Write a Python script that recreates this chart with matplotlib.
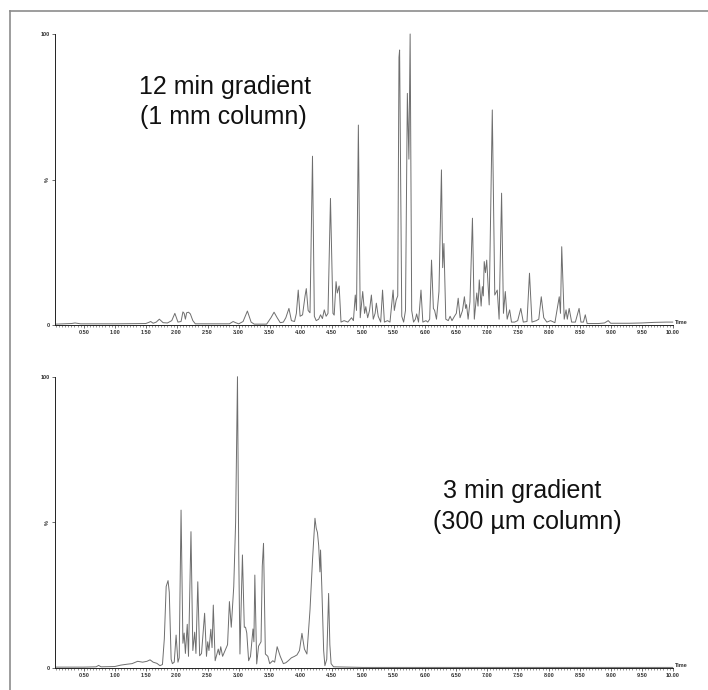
import numpy as np
import matplotlib
matplotlib.use("Agg")
import matplotlib.pyplot as plt
from matplotlib.lines import Line2D
from matplotlib.ticker import MultipleLocator

plt.rcParams['font.family'] = ['Liberation Sans', 'DejaVu Sans']

# 12 min gradient (1 mm column): retention time (min) and relative intensity (%)
top_time = [0.05, 0.30, 0.36, 0.45, 1.00, 1.50, 1.55, 1.58, 1.62, 1.67, 1.72, 1.78, 1.85, 1.92, 1.97,
            2.02, 2.07, 2.10, 2.12, 2.14, 2.16, 2.19, 2.22, 2.26, 2.30, 2.85, 2.91, 2.95, 3.00, 3.07,
            3.14, 3.20, 3.25, 3.45, 3.52, 3.57, 3.62, 3.67, 3.72, 3.76, 3.81, 3.85, 3.90, 3.93, 3.96,
            3.99, 4.03, 4.07, 4.09, 4.12, 4.15, 4.19, 4.22, 4.25, 4.29, 4.32, 4.35, 4.38, 4.41, 4.44,
            4.48, 4.52, 4.54, 4.57, 4.59, 4.62, 4.65, 4.70, 4.76, 4.82, 4.85, 4.88, 4.90, 4.93, 4.96,
            5.00, 5.03, 5.05, 5.08, 5.11, 5.14, 5.17, 5.20, 5.22, 5.25, 5.29, 5.32, 5.35, 5.40, 5.44,
            5.49, 5.51, 5.54, 5.565, 5.585, 5.595, 5.63, 5.66, 5.69, 5.72, 5.745, 5.765, 5.79, 5.82,
            5.85, 5.87, 5.90, 5.94, 5.97, 6.02, 6.05, 6.08, 6.11, 6.14, 6.16, 6.19, 6.23, 6.27, 6.29,
            6.31, 6.34, 6.38, 6.41, 6.44, 6.48, 6.51, 6.54, 6.57, 6.61, 6.64, 6.66, 6.675, 6.70, 6.73,
            6.77, 6.80, 6.84, 6.86, 6.88, 6.91, 6.93, 6.945, 6.96, 6.98, 7.00, 7.04, 7.09, 7.13, 7.17,
            7.20, 7.24, 7.27, 7.30, 7.33, 7.37, 7.40, 7.45, 7.50, 7.55, 7.59, 7.65, 7.69, 7.73, 7.80,
            7.84, 7.88, 7.92, 7.97, 8.03, 8.10, 8.17, 8.19, 8.21, 8.25, 8.28, 8.30, 8.33, 8.37, 8.43,
            8.49, 8.52, 8.56, 8.59, 8.62, 8.80, 8.90, 8.96, 9.00, 9.30, 9.50, 9.70, 9.90, 10.00]
top_int = [0.3, 0.5, 0.7, 0.4, 0.4, 0.5, 0.9, 1.2, 0.6, 1.0, 2.0, 0.8, 0.7, 1.5, 4.0,
           1.0, 1.2, 4.5, 4.0, 2.0, 4.2, 4.4, 3.8, 1.5, 0.4, 0.4, 1.2, 0.8, 0.4, 1.2,
           4.8, 1.0, 0.3, 0.3, 2.5, 4.4, 2.5, 0.8, 1.0, 2.5, 5.7, 1.5, 1.2, 4.0, 12.0,
           3.0, 3.5, 10.0, 12.5, 5.0, 4.2, 58.0, 3.0, 1.5, 2.0, 3.5, 2.2, 5.2, 3.0, 4.0,
           43.5, 4.0, 3.4, 14.9, 11.0, 13.4, 1.0, 1.5, 1.0, 2.5, 1.5, 10.3, 5.0, 68.7, 2.5,
           11.5, 4.0, 6.3, 2.5, 5.0, 10.3, 2.0, 4.0, 7.5, 3.0, 1.0, 12.0, 1.0, 1.5, 1.0,
           12.0, 5.0, 8.6, 10.0, 92.0, 94.5, 3.0, 1.0, 5.0, 79.6, 57.0, 100.0, 5.0, 1.0,
           2.0, 3.8, 1.0, 12.0, 1.0, 1.5, 1.0, 2.0, 22.3, 5.7, 5.0, 2.0, 11.5, 53.3, 19.7,
           28.0, 2.0, 1.5, 3.0, 1.5, 3.0, 4.0, 9.2, 2.5, 5.0, 9.7, 5.7, 7.0, 2.0, 8.0,
           36.7, 2.0, 11.0, 6.5, 15.5, 6.5, 13.2, 10.0, 21.8, 18.0, 22.3, 6.9, 73.9, 10.3, 12.0,
           2.0, 45.3, 4.0, 11.5, 2.0, 5.2, 1.0, 1.0, 1.5, 5.7, 1.0, 1.2, 17.8, 1.0, 1.5,
           2.0, 9.7, 2.5, 1.0, 1.5, 0.8, 9.7, 4.0, 26.9, 2.0, 5.2, 2.0, 5.7, 1.0, 1.0,
           5.7, 1.0, 1.0, 3.5, 0.5, 0.5, 0.7, 1.5, 0.6, 0.6, 0.7, 0.9, 1.0, 1.0]

# 3 min gradient (300 um column)
bot_time = [0.05, 0.50, 0.70, 0.74, 0.78, 1.00, 1.10, 1.20, 1.28, 1.37, 1.45, 1.52, 1.57, 1.62, 1.68,
            1.73, 1.77, 1.80, 1.83, 1.86, 1.88, 1.91, 1.93, 1.96, 1.99, 2.02, 2.04, 2.07, 2.10, 2.12,
            2.14, 2.17, 2.19, 2.23, 2.26, 2.29, 2.31, 2.34, 2.37, 2.40, 2.45, 2.48, 2.50, 2.52, 2.55,
            2.57, 2.59, 2.62, 2.67, 2.69, 2.71, 2.74, 2.78, 2.82, 2.85, 2.88, 2.92, 2.95, 2.98, 3.00,
            3.02, 3.06, 3.09, 3.11, 3.13, 3.16, 3.19, 3.23, 3.245, 3.26, 3.29, 3.32, 3.36, 3.38, 3.40,
            3.43, 3.47, 3.50, 3.55, 3.58, 3.62, 3.67, 3.72, 3.76, 3.80, 3.85, 3.90, 3.94, 3.98, 4.02,
            4.06, 4.10, 4.15, 4.19, 4.23, 4.25, 4.27, 4.29, 4.31, 4.32, 4.34, 4.37, 4.39, 4.42, 4.45,
            4.47, 4.49, 4.53, 5.00, 10.00]
bot_int = [0.3, 0.3, 0.4, 0.9, 0.4, 0.5, 1.0, 1.3, 1.5, 2.3, 2.0, 2.3, 2.8, 2.0, 1.6,
           0.8, 1.2, 10.0, 28.0, 30.0, 26.0, 3.0, 1.5, 2.0, 11.3, 2.0, 3.5, 54.2, 8.5, 12.0,
           5.0, 15.0, 4.0, 46.8, 6.0, 12.3, 5.0, 29.6, 4.2, 5.0, 18.8, 4.0, 9.0, 6.0, 13.3,
           7.0, 21.6, 2.5, 6.5, 4.5, 7.3, 4.0, 6.0, 8.0, 22.8, 14.0, 28.0, 50.0, 100.0, 40.0,
           4.8, 38.8, 14.0, 14.0, 12.0, 2.5, 4.0, 13.4, 9.0, 31.9, 1.4, 7.5, 9.0, 35.0, 42.8,
           4.8, 4.0, 1.5, 2.5, 2.0, 7.3, 4.0, 1.5, 1.8, 2.5, 3.5, 4.0, 4.5, 6.0, 11.9,
           6.5, 4.8, 20.0, 37.0, 51.4, 48.0, 46.5, 42.0, 33.0, 40.5, 28.0, 6.0, 0.8, 3.0, 25.6,
           8.0, 1.5, 0.4, 0.2, 0.2]

x_ticks = [0.5, 1.0, 1.5, 2.0, 2.5, 3.0, 3.5, 4.0, 4.5, 5.0, 5.5, 6.0, 6.5, 7.0, 7.5, 8.0, 8.5, 9.0, 9.5, 10.0]
y_ticks = [0, 50, 100]
y_labels = ['0', '%', '100']

W, H = 708, 690
fig = plt.figure(figsize=(W / 100, H / 100), dpi=100)


def px(x, y):
    return x / W, 1 - y / H


def chrom(ax, t, v):
    ax.plot(t, v, color='#6e6e6e', lw=0.7, clip_on=False)
    ax.set_xlim(0.04, 10.0)
    ax.set_ylim(0, 100)
    for s in ['top', 'right']:
        ax.spines[s].set_visible(False)
    for s in ['left', 'bottom']:
        ax.spines[s].set_linewidth(0.7)
        ax.spines[s].set_color('#222222')
    ax.set_xticks(x_ticks)
    ax.set_xticklabels(['%.2f' % x for x in x_ticks], fontweight='bold')
    ax.xaxis.set_minor_locator(MultipleLocator(0.05))
    ax.tick_params(axis='x', which='major', length=2.2, width=0.5, pad=1.2, labelsize=4,
                   colors='#333333')
    ax.tick_params(axis='x', which='minor', length=1.1, width=0.4, colors='#444444')
    ax.set_yticks(y_ticks)
    ax.set_yticklabels(y_labels, fontweight='bold')
    ax.tick_params(axis='y', length=2.5, width=0.5, pad=1, labelsize=4, colors='#333333')
    ax.get_yticklabels()[1].set_rotation(90)
    ax.get_yticklabels()[1].set_va('center')
    ax.text(1.003, 0.008, 'Time', transform=ax.transAxes, fontsize=4, color='#333333',
            fontweight='bold', ha='left', va='center')


left, width = 55.2 / W, (672.7 - 55.2) / W
ax1 = fig.add_axes([left, (H - 325) / H, width, (325 - 34) / H])
chrom(ax1, top_time, top_int)
ax2 = fig.add_axes([left, (H - 668) / H, width, (668 - 376.7) / H])
chrom(ax2, bot_time, bot_int)

# labels
fig.text(*px(225, 94), '12 min gradient', ha='center', va='baseline', fontsize=18, color='#111111')
fig.text(*px(223, 124), '(1 mm column)', ha='center', va='baseline', fontsize=18, color='#111111')
fig.text(*px(522, 498), '3 min gradient', ha='center', va='baseline', fontsize=18, color='#111111')
fig.text(*px(527, 529), '(300 µm column)', ha='center', va='baseline', fontsize=18, color='#111111')

# outer frame
fig.add_artist(Line2D([10 / W, 10 / W], [0, 1 - 11 / H], transform=fig.transFigure,
                      color='#8c8c8c', lw=1.2))
fig.add_artist(Line2D([10 / W, 1], [1 - 11 / H, 1 - 11 / H], transform=fig.transFigure,
                      color='#8c8c8c', lw=1.2))

fig.savefig('out.png', dpi=100)
